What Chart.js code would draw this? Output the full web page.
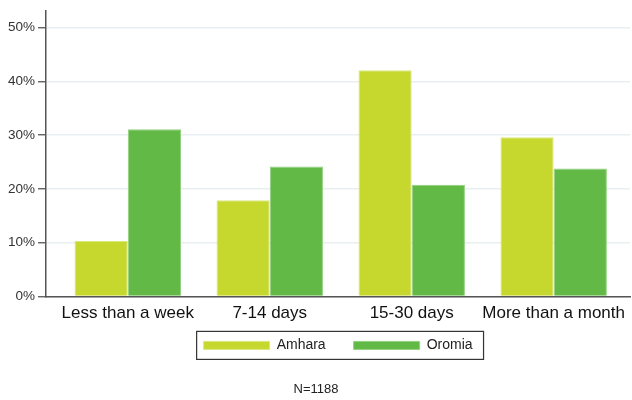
<!DOCTYPE html>
<html>
<head>
<meta charset="utf-8">
<script src="https://cdn.jsdelivr.net/npm/chart.js@4/dist/chart.umd.min.js"></script>
<style>
  html, body { margin: 0; padding: 0; background: #fff; }
  #wrap { width: 632px; height: 400px; }
</style>
</head>
<body>
<div id="wrap"><canvas id="myChart"></canvas></div>
<script>
// values (percent)
var categories = ['Less than a week', '7-14 days', '15-30 days', 'More than a month'];
var amhara = [10.3, 17.9, 42.1, 29.6];
var oromia = [31.1, 24.2, 20.8, 23.8];
var yTicks = [0, 10, 20, 30, 40, 50];
var note = 'N=1188';

Chart.defaults.font.family = '"Liberation Sans", Arial, sans-serif';

// box around the legend, like the original
var legendFrame = {
  id: 'legendFrame',
  afterDraw: function(chart) {
    var hb = chart.legend.legendHitBoxes;
    if (!hb || !hb.length) return;
    var left = Math.min.apply(null, hb.map(function(h){ return h.left; })) - 7;
    var right = Math.max.apply(null, hb.map(function(h){ return h.left + h.width; })) + 11;
    var mid = hb[0].top + hb[0].height / 2;
    var ctx = chart.ctx;
    ctx.save();
    ctx.strokeStyle = '#333';
    ctx.lineWidth = 1.2;
    ctx.strokeRect(left, mid - 14, right - left, 28);
    ctx.restore();
  }
};

var ctx = document.getElementById('myChart');
var myChart = new Chart(ctx, {
  type: 'bar',
  data: {
    datasets: [{
      label: 'Amhara',
      data: amhara.map(function(v, i){ return {x: i, y: v}; }),
      backgroundColor: '#c6d82e',
      borderColor: '#dbe87f',
      borderWidth: 1
    }, {
      label: 'Oromia',
      data: oromia.map(function(v, i){ return {x: i, y: v}; }),
      backgroundColor: '#62b946',
      borderColor: '#92d07e',
      borderWidth: 1
    }]
  },
  plugins: [legendFrame],
  options: {
    responsive: true,
    maintainAspectRatio: false,
    animation: false,
    categoryPercentage: 0.75,
    barPercentage: 1,
    layout: { padding: { top: 6, right: 0, bottom: 0, left: 0 } },
    scales: {
      x: {
        type: 'linear',
        offset: false,
        min: -0.576,
        max: 3.539,
        grid: { display: false, tickLength: 0 },
        border: { color: '#555', width: 1.5 },
        afterBuildTicks: function(s) {
          s.ticks = categories.map(function(c, i){ return {value: i}; });
        },
        afterFit: function(s) { s.height = 28; },
        ticks: {
          autoSkip: false,
          maxRotation: 0,
          padding: 7,
          color: '#111',
          font: { size: 17 },
          callback: function(v) { return categories[v]; }
        }
      },
      y: {
        min: 0,
        max: 53.1,
        afterBuildTicks: function(s) {
          s.ticks = yTicks.map(function(v){ return {value: v}; });
        },
        afterFit: function(s) { s.width = 46; },
        grid: { color: '#e8eff2', lineWidth: 1.5, tickLength: 8, tickColor: '#555', tickWidth: 1.3 },
        border: { color: '#555', width: 1.5 },
        ticks: {
          padding: 3,
          color: '#333',
          font: { size: 13.5 },
          callback: function(v) { return v + '%'; }
        }
      }
    },
    plugins: {
      legend: {
        position: 'bottom',
        fullSize: false,
        labels: {
          boxWidth: 66,
          boxHeight: 8,
          padding: 14,
          color: '#222',
          font: { size: 14 },
          generateLabels: function(chart) {
            var items = Chart.defaults.plugins.legend.labels.generateLabels(chart);
            items.forEach(function(it, i) {
              if (i < items.length - 1) it.text = it.text + '\u2002\u2002';
            });
            return items;
          }
        }
      },
      subtitle: {
        display: true,
        position: 'bottom',
        text: note,
        color: '#222',
        font: { size: 13, weight: 'normal' },
        padding: { top: 19, bottom: 3 }
      },
      tooltip: { enabled: false }
    }
  }
});
</script>
</body>
</html>
